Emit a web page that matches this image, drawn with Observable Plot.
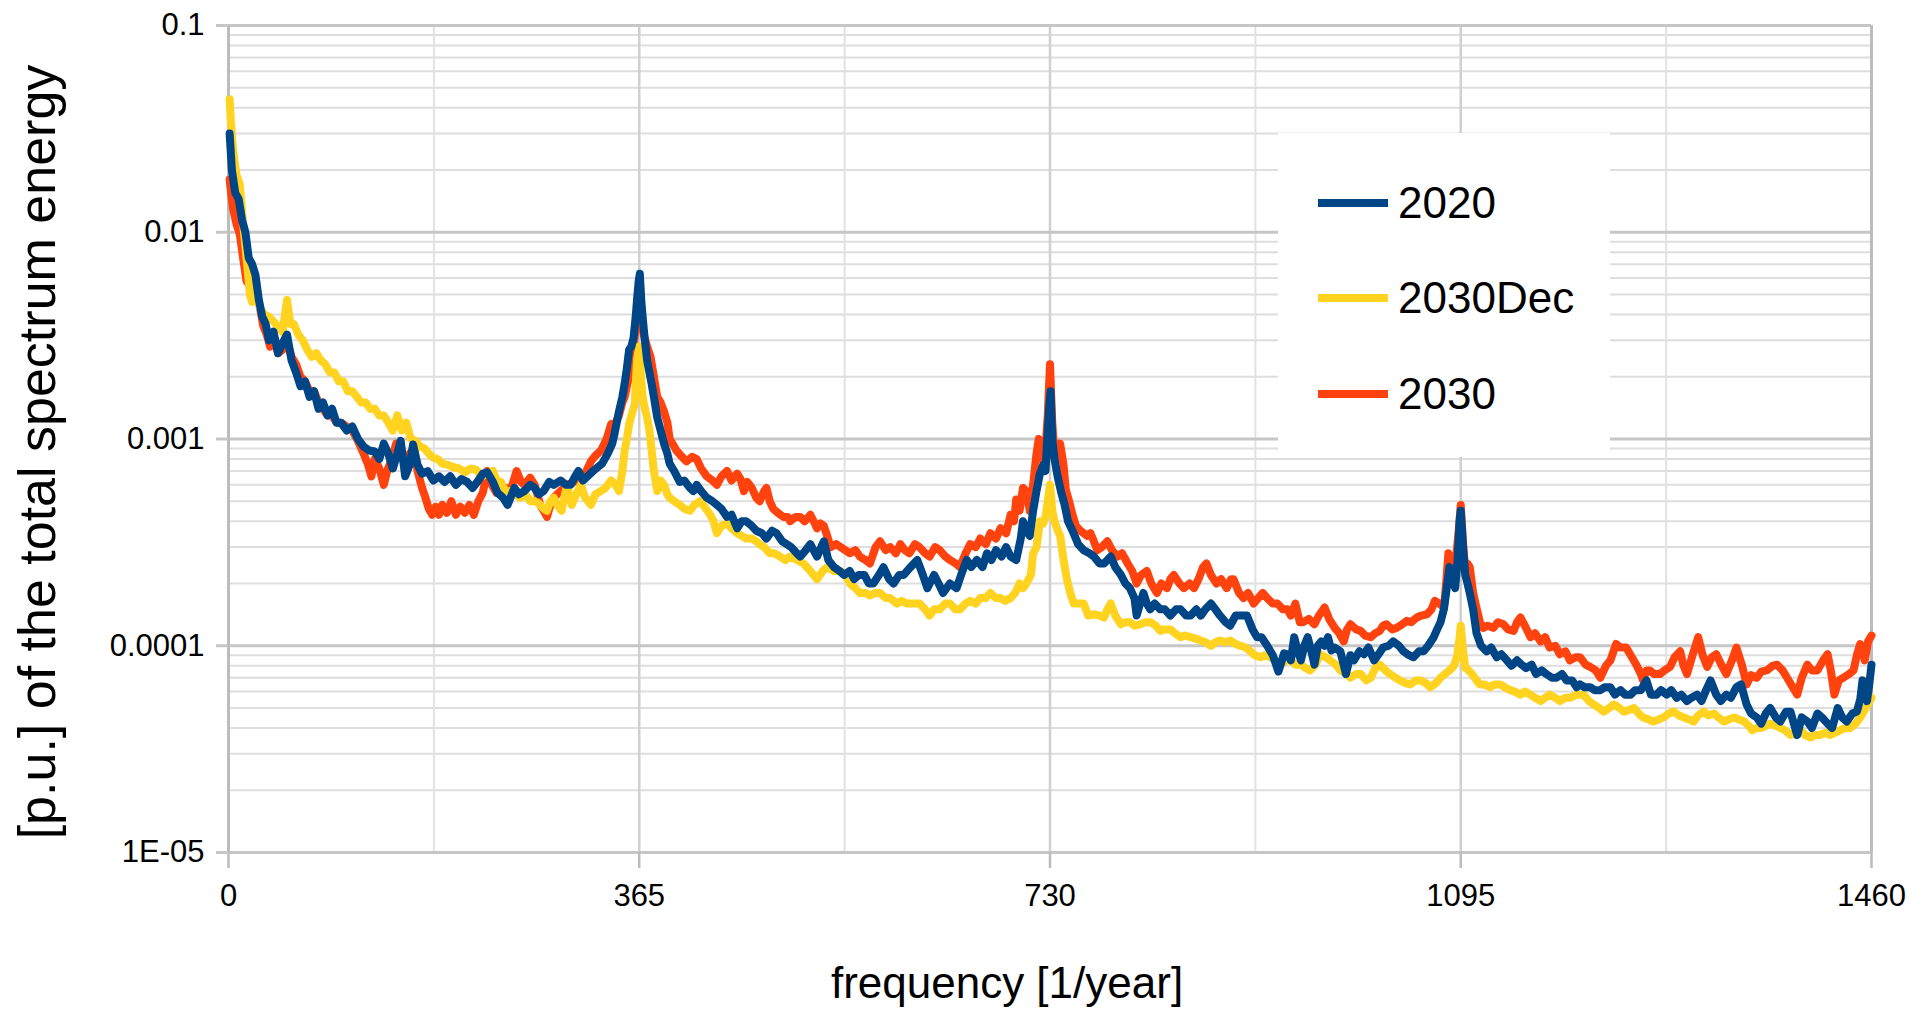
<!DOCTYPE html>
<html><head><meta charset="utf-8">
<script src="https://cdn.jsdelivr.net/npm/d3@7"></script>
<script src="https://cdn.jsdelivr.net/npm/@observablehq/plot@0.6"></script>
<style>
html,body{margin:0;padding:0;background:#fff;}
#wrap{position:relative;width:1927px;height:1014px;font-family:"Liberation Sans",Arial,sans-serif;}
#legend{position:absolute;left:1278px;top:133px;width:332px;height:324px;background:#fff;}
.row{position:absolute;left:40px;height:60px;display:flex;align-items:center;}
.sw{width:70px;height:8px;margin-right:10px;}
.lab{font-size:44px;color:#000;line-height:60px;}
</style></head><body><div id="wrap"></div>
<script>
// ---- series: [frequency (1/year), share of total spectrum energy (p.u.)]
const s2020 = [
[1,0.030],[3,0.020],[6,0.0155],[9,0.0145],[12,0.0115],[15,0.0100],[18,0.0075],[21,0.0070],[24,0.0062],[27,0.0047],[30,0.0039],[33,0.0036],[36,0.0030],[40,0.0033],[44,0.0026],[48,0.0029],[52,0.0032],[56,0.0024],[60,0.0021],[64,0.0018],[68,0.0019],[72,0.0016],[76,0.0017],[80,0.0014],[84,0.0015],[88,0.0013],[92,0.0014],[96,0.0012],[100,0.0012],[105,0.0011],[110,0.00115],[115,0.0010],[120,0.00092],[125,0.00088],[130,0.00087],[134,0.00080],[138,0.00095],[142,0.00085],[146,0.00072],[150,0.00085],[153,0.00098],[157,0.00066],[161,0.00075],[164,0.00094],[168,0.00075],[172,0.00068],[177,0.00070],[182,0.00063],[187,0.00066],[192,0.00062],[197,0.00066],[202,0.00060],[207,0.00064],[212,0.00062],[217,0.00058],[222,0.00063],[226,0.00068],[230,0.00069],[235,0.00062],[239,0.00055],[244,0.00052],[248,0.00048],[254,0.00058],[258,0.00054],[263,0.00056],[268,0.00060],[272,0.00058],[276,0.00054],[280,0.00056],[285,0.00062],[289,0.00060],[295,0.00063],[300,0.00060],[304,0.00060],[308,0.00066],[311,0.00070],[315,0.00063],[319,0.00066],[324,0.00070],[328,0.00073],[332,0.00076],[337,0.00085],[341,0.00095],[343,0.00106],[347,0.00136],[350,0.0016],[352,0.00185],[354,0.0022],[356,0.0027],[358,0.0028],[360,0.0031],[362,0.0040],[363,0.0047],[364.5,0.0058],[365.5,0.0063],[367,0.0045],[368,0.0039],[370,0.0030],[372,0.0024],[374,0.0021],[376,0.00185],[378,0.0016],[381,0.00127],[384,0.0011],[387,0.00095],[390,0.00085],[392,0.00076],[396,0.00070],[401,0.00062],[405,0.00063],[410,0.00058],[413,0.00056],[416,0.00060],[420,0.00056],[425,0.00052],[430,0.00050],[434,0.00048],[438,0.00046],[443,0.00042],[447,0.00043],[452,0.00037],[456,0.00040],[460,0.00040],[465,0.00038],[469,0.00036],[474,0.00035],[478,0.00033],[483,0.00036],[487,0.00035],[492,0.00032],[496,0.00031],[500,0.00030],[505,0.00028],[508,0.00027],[513,0.00029],[517,0.00031],[523,0.00027],[529,0.00032],[533,0.00026],[538,0.00024],[543,0.00023],[547,0.00022],[552,0.00023],[556,0.00021],[560,0.00022],[565,0.00022],[569,0.00020],[573,0.00020],[578,0.00022],[582,0.00024],[587,0.00021],[591,0.00020],[596,0.00022],[600,0.00022],[606,0.00024],[612,0.00026],[617,0.00022],[621,0.00019],[627,0.00022],[631,0.00020],[635,0.00018],[641,0.00020],[647,0.00019],[651,0.00022],[656,0.00026],[660,0.00024],[665,0.00026],[670,0.00024],[674,0.00028],[678,0.00026],[682,0.00029],[687,0.00027],[691,0.00030],[695,0.00027],[700,0.00026],[704,0.00033],[706,0.00040],[709,0.00036],[712,0.00034],[715,0.00045],[718,0.00056],[721,0.00068],[724,0.00075],[726,0.00070],[728,0.0011],[729.5,0.0015],[730.5,0.0017],[732,0.0010],[734,0.00080],[737,0.00065],[740,0.00055],[743,0.00048],[746,0.00040],[750,0.00036],[755,0.00031],[760,0.00029],[765,0.00028],[769,0.00027],[774,0.00025],[778,0.00025],[784,0.00027],[788,0.00024],[793,0.00022],[797,0.00020],[801,0.00019],[805,0.00017],[807,0.00014],[810,0.00016],[813,0.00018],[816,0.00016],[819,0.00015],[823,0.00016],[828,0.00015],[832,0.00015],[837,0.00014],[842,0.00015],[846,0.00015],[851,0.00014],[855,0.00014],[860,0.00015],[864,0.00014],[868,0.00015],[873,0.00016],[877,0.00015],[881,0.00014],[886,0.00013],[890,0.000125],[895,0.00014],[899,0.00014],[905,0.00014],[910,0.00012],[914,0.00011],[918,0.00011],[923,0.00010],[928,0.00009],[933,0.000075],[938,0.000092],[941,0.000091],[944,0.000085],[947,0.00011],[950,0.000095],[953,0.000085],[956,0.00010],[959,0.00011],[962,0.000095],[965,0.000081],[968,0.0001],[971,0.000105],[974,0.0001],[977,0.00011],[980,0.000095],[983,0.000098],[988,0.000094],[993,0.000073],[997,0.00009],[1000,0.000085],[1005,0.000094],[1009,0.000091],[1013,0.000098],[1018,0.000085],[1022,0.000091],[1026,0.000098],[1031,0.0001],[1035,0.000105],[1040,0.0001],[1044,0.000094],[1049,0.00009],[1053,0.000088],[1058,0.000094],[1062,0.000094],[1066,0.00010],[1071,0.00011],[1074,0.00012],[1077,0.00013],[1080,0.00015],[1082,0.00018],[1085,0.00024],[1088,0.00021],[1090,0.00019],[1092,0.00025],[1094,0.00040],[1095,0.00045],[1097,0.00030],[1099,0.00022],[1101,0.00020],[1103,0.00018],[1106,0.00015],[1109,0.000115],[1113,0.00010],[1118,0.000094],[1122,0.000098],[1127,0.000088],[1131,0.000091],[1136,0.000085],[1140,0.00008],[1145,0.000085],[1149,0.000081],[1153,0.000078],[1158,0.000081],[1162,0.000073],[1167,0.000076],[1171,0.000073],[1176,0.000070],[1180,0.000070],[1185,0.000073],[1189,0.000068],[1194,0.000068],[1198,0.000063],[1201,0.000065],[1205,0.000063],[1210,0.000063],[1214,0.000061],[1219,0.000061],[1223,0.000063],[1228,0.000063],[1232,0.000058],[1237,0.000061],[1241,0.000058],[1246,0.000058],[1250,0.000061],[1255,0.000061],[1260,0.000068],[1264,0.000058],[1269,0.000058],[1273,0.000061],[1278,0.000058],[1282,0.000061],[1287,0.000056],[1291,0.000058],[1296,0.000054],[1300,0.000056],[1305,0.000058],[1309,0.000054],[1313,0.000061],[1317,0.000068],[1322,0.000058],[1326,0.000054],[1331,0.000058],[1335,0.000056],[1340,0.000063],[1344,0.000065],[1349,0.000052],[1353,0.000047],[1358,0.000045],[1362,0.000042],[1366,0.000047],[1370,0.000050],[1375,0.000045],[1379,0.000043],[1384,0.000048],[1388,0.000048],[1391,0.000042],[1394,0.000037],[1398,0.000045],[1403,0.000043],[1407,0.000040],[1412,0.000047],[1416,0.000045],[1421,0.000042],[1425,0.000040],[1430,0.000050],[1434,0.000045],[1438,0.000043],[1443,0.000047],[1447,0.000048],[1450,0.000055],[1452,0.000068],[1454,0.000058],[1456,0.000054],[1458,0.000065],[1460,0.000081]
];
const s2030Dec = [
[1,0.044],[2,0.035],[4,0.025],[7,0.019],[10,0.017],[13,0.011],[16,0.0075],[19,0.0050],[21,0.0046],[24,0.0052],[28,0.0043],[32,0.0040],[36,0.0039],[40,0.0037],[44,0.0035],[48,0.0033],[52,0.0047],[55,0.0036],[58,0.0036],[62,0.0032],[66,0.0030],[70,0.0027],[74,0.0025],[78,0.0026],[82,0.0024],[86,0.0023],[90,0.0021],[94,0.0021],[98,0.0019],[102,0.0019],[106,0.0017],[110,0.0017],[114,0.0016],[118,0.0015],[122,0.0015],[126,0.0014],[130,0.0014],[134,0.0013],[138,0.0013],[142,0.0012],[146,0.0011],[150,0.0013],[154,0.0011],[158,0.0012],[162,0.0010],[166,0.00098],[170,0.00092],[174,0.00090],[178,0.00085],[182,0.00081],[186,0.00080],[190,0.00076],[195,0.00075],[200,0.00073],[205,0.00072],[210,0.00069],[215,0.00072],[220,0.00071],[225,0.00066],[230,0.00068],[235,0.00070],[240,0.00060],[242,0.00062],[246,0.00056],[251,0.00056],[255,0.00054],[259,0.00052],[264,0.00054],[268,0.00050],[273,0.00050],[277,0.00048],[280,0.00046],[283,0.00045],[286,0.00050],[289,0.00052],[292,0.00048],[296,0.00045],[299,0.00054],[301,0.00060],[303,0.00052],[305,0.00048],[309,0.00054],[313,0.00060],[317,0.00052],[322,0.00048],[326,0.00054],[331,0.00056],[335,0.00058],[340,0.00063],[344,0.00060],[347,0.00056],[350,0.00070],[352,0.00088],[354,0.0010],[356,0.00118],[358,0.0013],[361,0.00147],[363,0.0024],[365,0.0028],[366.5,0.0020],[368,0.0016],[370,0.0014],[372,0.00127],[374,0.0011],[376,0.00088],[378,0.00070],[381,0.00056],[384,0.00063],[387,0.00060],[390,0.00054],[392,0.00052],[396,0.00050],[401,0.00048],[405,0.00046],[410,0.00045],[414,0.00048],[419,0.00050],[423,0.00047],[428,0.00043],[431,0.00040],[434,0.00035],[438,0.00038],[443,0.00039],[447,0.00037],[452,0.00035],[456,0.00034],[460,0.00033],[465,0.00033],[469,0.00032],[472,0.00031],[476,0.00030],[481,0.00028],[485,0.00028],[490,0.00027],[495,0.00026],[499,0.00027],[505,0.00026],[511,0.00025],[517,0.00023],[523,0.00021],[528,0.00023],[532,0.00024],[538,0.00023],[544,0.00023],[548,0.00022],[552,0.00020],[557,0.00019],[561,0.00018],[566,0.00018],[570,0.000175],[575,0.00018],[579,0.00018],[584,0.00017],[588,0.00017],[594,0.00016],[598,0.000165],[603,0.00016],[608,0.00016],[614,0.00016],[619,0.00015],[623,0.00014],[627,0.00015],[632,0.00015],[637,0.00016],[641,0.00016],[646,0.00015],[650,0.00015],[655,0.00016],[659,0.000165],[664,0.00016],[668,0.00017],[673,0.00017],[677,0.00018],[682,0.00017],[686,0.00017],[690,0.000165],[695,0.00017],[699,0.00018],[703,0.00020],[706,0.00019],[709,0.00020],[713,0.00022],[715,0.00028],[718,0.00030],[721,0.00040],[724,0.00039],[726,0.00042],[728,0.00050],[730,0.00060],[732,0.00045],[734,0.00040],[737,0.00036],[739,0.00034],[742,0.00026],[745,0.00021],[748,0.00018],[751,0.00016],[755,0.00016],[760,0.00016],[764,0.00014],[769,0.000142],[774,0.00014],[778,0.000137],[781,0.00015],[784,0.00016],[788,0.00014],[793,0.000127],[797,0.00013],[801,0.00013],[805,0.000125],[810,0.000127],[815,0.00013],[819,0.00013],[824,0.000125],[828,0.000118],[832,0.00012],[837,0.00012],[841,0.000115],[846,0.00011],[850,0.000112],[855,0.00011],[860,0.000108],[864,0.000106],[868,0.000104],[873,0.00010],[877,0.000104],[881,0.000106],[886,0.000104],[890,0.000106],[895,0.000102],[899,0.00010],[904,0.000098],[908,0.000094],[912,0.00009],[917,0.000088],[921,0.00009],[926,0.000088],[930,0.000085],[935,0.000081],[940,0.000085],[944,0.000085],[948,0.000081],[953,0.000081],[957,0.000078],[961,0.000076],[966,0.000081],[970,0.000091],[975,0.000088],[979,0.000085],[984,0.000081],[988,0.000076],[993,0.000073],[997,0.000070],[1002,0.000073],[1006,0.000073],[1011,0.000068],[1015,0.000070],[1019,0.000078],[1023,0.000081],[1028,0.000076],[1032,0.000073],[1037,0.000070],[1041,0.000068],[1046,0.000066],[1050,0.000065],[1055,0.000068],[1059,0.000068],[1064,0.000066],[1068,0.000063],[1073,0.000066],[1077,0.000070],[1081,0.000073],[1085,0.000076],[1089,0.000080],[1092,0.000090],[1094,0.000110],[1095,0.000125],[1097,0.000095],[1099,0.000078],[1102,0.000076],[1105,0.000073],[1109,0.000068],[1112,0.000065],[1116,0.000065],[1121,0.000063],[1125,0.000065],[1130,0.000065],[1134,0.000063],[1139,0.000061],[1143,0.000060],[1148,0.000058],[1152,0.000060],[1157,0.000058],[1161,0.000056],[1166,0.000054],[1170,0.000056],[1174,0.000058],[1179,0.000056],[1183,0.000054],[1188,0.000056],[1192,0.000056],[1198,0.000058],[1204,0.000058],[1209,0.000054],[1213,0.000052],[1218,0.000050],[1222,0.000048],[1227,0.000050],[1231,0.000052],[1236,0.000050],[1240,0.000048],[1245,0.000049],[1249,0.000050],[1253,0.000047],[1257,0.000045],[1262,0.000044],[1266,0.000043],[1271,0.000044],[1275,0.000045],[1280,0.000047],[1284,0.000048],[1289,0.000046],[1293,0.000045],[1298,0.000044],[1302,0.000043],[1306,0.000046],[1311,0.000048],[1315,0.000046],[1320,0.000047],[1324,0.000045],[1329,0.000043],[1333,0.000044],[1338,0.000045],[1342,0.000044],[1347,0.000043],[1351,0.000041],[1354,0.000039],[1358,0.000040],[1362,0.000040],[1366,0.000041],[1370,0.000042],[1375,0.000041],[1379,0.000040],[1383,0.000039],[1388,0.000037],[1392,0.000038],[1397,0.000039],[1401,0.000037],[1406,0.000036],[1410,0.000037],[1414,0.000037],[1419,0.000038],[1423,0.000037],[1428,0.000038],[1432,0.000039],[1437,0.000040],[1441,0.000040],[1446,0.000042],[1450,0.000045],[1455,0.000050],[1460,0.000056]
];
const s2030 = [
[1,0.018],[2,0.016],[4,0.013],[7,0.011],[10,0.0098],[13,0.0075],[16,0.0058],[19,0.0055],[22,0.0058],[25,0.0052],[28,0.0043],[31,0.0035],[34,0.0032],[37,0.0028],[40,0.0031],[44,0.0026],[48,0.0027],[52,0.0030],[56,0.0025],[60,0.0023],[64,0.0020],[68,0.0019],[72,0.0017],[76,0.0017],[80,0.0015],[84,0.0014],[88,0.0013],[92,0.0013],[96,0.0012],[100,0.0012],[105,0.00115],[110,0.0011],[115,0.00098],[120,0.00085],[124,0.00075],[127,0.00066],[130,0.00080],[134,0.00072],[138,0.00060],[141,0.00070],[145,0.00080],[149,0.00095],[153,0.00085],[157,0.00078],[161,0.00085],[165,0.00090],[168,0.00070],[172,0.00058],[175,0.00052],[178,0.00046],[181,0.00043],[184,0.00047],[187,0.00043],[190,0.00048],[194,0.00044],[198,0.00050],[202,0.00043],[206,0.00047],[210,0.00044],[214,0.00048],[218,0.00043],[222,0.00050],[226,0.00055],[230,0.00070],[234,0.00060],[238,0.00055],[242,0.00060],[246,0.00058],[251,0.00057],[256,0.00070],[260,0.00062],[263,0.00060],[268,0.00065],[272,0.00060],[277,0.00048],[280,0.00045],[283,0.00042],[286,0.00048],[289,0.00052],[295,0.00056],[301,0.00060],[307,0.00062],[313,0.00063],[318,0.00070],[322,0.00078],[326,0.00083],[331,0.00088],[336,0.0010],[340,0.00118],[344,0.0012],[347,0.0013],[350,0.0015],[352,0.0016],[355,0.0019],[357,0.0022],[360,0.0028],[363,0.0039],[365,0.0044],[367,0.0038],[369,0.0032],[372,0.0028],[375,0.0025],[378,0.0020],[381,0.0016],[384,0.0015],[387,0.00136],[390,0.0012],[392,0.0010],[395,0.00094],[398,0.00088],[403,0.00082],[407,0.00078],[412,0.00082],[416,0.00080],[420,0.00072],[425,0.00066],[430,0.00063],[434,0.00060],[438,0.00066],[443,0.00070],[447,0.00063],[452,0.00068],[455,0.00064],[458,0.00056],[461,0.00062],[465,0.00058],[469,0.00052],[472,0.00050],[476,0.00056],[478,0.00058],[481,0.00050],[484,0.00046],[488,0.00044],[493,0.00042],[497,0.00042],[499,0.00040],[504,0.00042],[508,0.00042],[512,0.00040],[517,0.00043],[520,0.00040],[523,0.00037],[526,0.00039],[529,0.00038],[532,0.00034],[535,0.00030],[540,0.00031],[544,0.00030],[548,0.00029],[552,0.00028],[557,0.00029],[561,0.00027],[566,0.00026],[570,0.00025],[575,0.00030],[579,0.00032],[584,0.00029],[588,0.00030],[593,0.00028],[597,0.00031],[601,0.00029],[605,0.00028],[610,0.00031],[614,0.00030],[619,0.00028],[623,0.00027],[628,0.00030],[632,0.00029],[637,0.00027],[641,0.00026],[646,0.00025],[650,0.00024],[655,0.00028],[659,0.00031],[664,0.00030],[668,0.00033],[673,0.00031],[677,0.00035],[682,0.00033],[686,0.00037],[691,0.00035],[695,0.00043],[698,0.00040],[700,0.00051],[703,0.00045],[706,0.00058],[709,0.00056],[712,0.00045],[715,0.00060],[718,0.00085],[720,0.0010],[723,0.00080],[726,0.00090],[728,0.0013],[730,0.0023],[732,0.0012],[734,0.00085],[736,0.00080],[739,0.00095],[742,0.00075],[744,0.00057],[747,0.00050],[750,0.00043],[753,0.00038],[757,0.00036],[760,0.00035],[763,0.00034],[766,0.00035],[769,0.00032],[772,0.00029],[776,0.00030],[781,0.00032],[785,0.00029],[790,0.00027],[794,0.00028],[799,0.00025],[803,0.00023],[807,0.00020],[811,0.00022],[816,0.00023],[820,0.00020],[825,0.00018],[829,0.00020],[834,0.00019],[837,0.00021],[840,0.00022],[845,0.00020],[849,0.00019],[854,0.00020],[858,0.00019],[862,0.00021],[866,0.00024],[869,0.00025],[873,0.00022],[878,0.00020],[882,0.00021],[887,0.00019],[891,0.00021],[893,0.00021],[898,0.00018],[902,0.00017],[906,0.00018],[911,0.00016],[915,0.00017],[919,0.00018],[923,0.00017],[928,0.00016],[932,0.00016],[937,0.00015],[941,0.00015],[944,0.00014],[948,0.00016],[952,0.00013],[955,0.00013],[960,0.000135],[965,0.000127],[969,0.00014],[974,0.000153],[978,0.000135],[983,0.000122],[987,0.000115],[991,0.000105],[994,0.00012],[997,0.000127],[1002,0.00012],[1006,0.000118],[1010,0.000112],[1015,0.00011],[1019,0.000115],[1023,0.000118],[1026,0.000125],[1029,0.000127],[1034,0.00012],[1038,0.000122],[1043,0.000127],[1047,0.000132],[1051,0.000130],[1056,0.000137],[1060,0.00014],[1065,0.000142],[1069,0.00015],[1072,0.000165],[1076,0.00016],[1080,0.000153],[1082,0.00020],[1084,0.00028],[1087,0.00025],[1090,0.00024],[1093,0.00035],[1095,0.00048],[1097,0.00032],[1099,0.00023],[1101,0.00025],[1103,0.00024],[1106,0.00018],[1109,0.000153],[1112,0.00013],[1115,0.000122],[1119,0.000125],[1124,0.000122],[1128,0.000130],[1133,0.000127],[1137,0.00012],[1142,0.000118],[1145,0.00013],[1148,0.000137],[1152,0.000125],[1157,0.00011],[1161,0.000115],[1166,0.000105],[1170,0.00011],[1174,0.000098],[1179,0.0001],[1183,0.000091],[1188,0.000094],[1192,0.000085],[1197,0.000088],[1201,0.000088],[1206,0.000081],[1210,0.000079],[1215,0.000076],[1219,0.00007],[1224,0.000080],[1228,0.000085],[1233,0.000102],[1237,0.000098],[1242,0.000098],[1246,0.000090],[1251,0.000081],[1255,0.000073],[1257,0.000068],[1260,0.000076],[1263,0.000076],[1267,0.000073],[1272,0.000073],[1276,0.000076],[1281,0.000079],[1285,0.000088],[1290,0.000094],[1293,0.000080],[1296,0.000073],[1301,0.000090],[1306,0.00011],[1310,0.000090],[1314,0.000079],[1318,0.000088],[1322,0.000091],[1327,0.000080],[1331,0.000073],[1336,0.000085],[1340,0.000098],[1345,0.000080],[1349,0.000065],[1353,0.000072],[1358,0.000070],[1362,0.000075],[1367,0.000076],[1372,0.000080],[1376,0.000081],[1381,0.000076],[1385,0.000070],[1390,0.000063],[1394,0.000058],[1398,0.000070],[1403,0.000081],[1407,0.000076],[1412,0.000076],[1417,0.000085],[1421,0.000091],[1424,0.000075],[1427,0.000058],[1431,0.000068],[1435,0.000070],[1440,0.000073],[1444,0.000076],[1447,0.000090],[1450,0.000102],[1452,0.000095],[1454,0.000085],[1457,0.000105],[1460,0.000112]
];

const seriesNames = ["2020", "2030Dec", "2030"];
const seriesColors = ["#004586", "#ffd320", "#ff420e"];

const xTicks = [0, 365, 730, 1095, 1460];
const xMinorGrid = [182.5, 547.5, 912.5, 1277.5];
const yTicks = [1e-5, 1e-4, 1e-3, 1e-2, 1e-1];
const yTickLabels = ["1E-05", "0.0001", "0.001", "0.01", "0.1"];
const yMinorFactors = [2, 3, 4, 5, 6, 7, 8, 9];
const xTitle = "frequency [1/year]";
const yTitle = "[p.u.] of the total spectrum energy";

const yMinorGrid = yTicks.slice(0, 4).flatMap(d => yMinorFactors.map(k => k * d));

const lineOpts = (color) => ({x: d => d[0], y: d => d[1], stroke: color, strokeWidth: 8, strokeLinejoin: "round", strokeLinecap: "round"});

const chart = Plot.plot({
  width: 1927,
  height: 1014,
  marginLeft: 228,
  marginRight: 56,
  marginTop: 25,
  marginBottom: 162,
  style: {fontFamily: "'Liberation Sans', Arial, sans-serif", background: "#fff", color: "#000"},
  x: {domain: [0, 1460]},
  y: {type: "log", domain: [1e-5, 0.1]},
  marks: [
    Plot.ruleY(yMinorGrid, {stroke: "#dedede", strokeWidth: 2}),
    Plot.ruleX(xMinorGrid, {stroke: "#e2e2e2", strokeWidth: 2}),
    Plot.ruleX(xTicks.slice(1, 4), {stroke: "#d0d0d0", strokeWidth: 2.5}),
    Plot.ruleY(yTicks, {stroke: "#c6c6c6", strokeWidth: 3}),
    Plot.ruleX([xTicks[0], xTicks[4]], {stroke: "#bcbcbc", strokeWidth: 3}),
    Plot.axisX({ticks: xTicks, tickFormat: d => String(d), tickSize: 16, tickPadding: 15, fontSize: 31, stroke: "#bcbcbc", strokeWidth: 2.5, fill: "#000", label: null}),
    Plot.axisY({ticks: yTicks, tickFormat: d => yTickLabels[yTicks.indexOf(d)], tickSize: 12, tickPadding: 12, fontSize: 31, stroke: "#c6c6c6", strokeWidth: 3, fill: "#000", label: null}),
    Plot.line(s2030, lineOpts(seriesColors[2])),
    Plot.line(s2030Dec, lineOpts(seriesColors[1])),
    Plot.line(s2020, lineOpts(seriesColors[0])),
    Plot.text([xTitle], {frameAnchor: "bottom", dx: -43, dy: 131, fontSize: 44, fill: "#000", lineAnchor: "middle", textAnchor: "middle"}),
    Plot.text([yTitle], {frameAnchor: "left", dx: -190, dy: 13, rotate: -90, fontSize: 52, fill: "#000", lineAnchor: "middle", textAnchor: "middle"})
  ]
});

const wrap = document.getElementById("wrap");
wrap.appendChild(chart);

// legend (over the plot, top right)
const legend = document.createElement("div");
legend.id = "legend";
const rowTops = [40, 135, 231];
seriesNames.forEach((name, i) => {
  const row = document.createElement("div");
  row.className = "row";
  row.style.top = rowTops[i] + "px";
  const sw = document.createElement("span");
  sw.className = "sw";
  sw.style.background = seriesColors[i];
  const lab = document.createElement("span");
  lab.className = "lab";
  lab.textContent = name;
  row.appendChild(sw);
  row.appendChild(lab);
  legend.appendChild(row);
});
wrap.appendChild(legend);
</script></body></html>
